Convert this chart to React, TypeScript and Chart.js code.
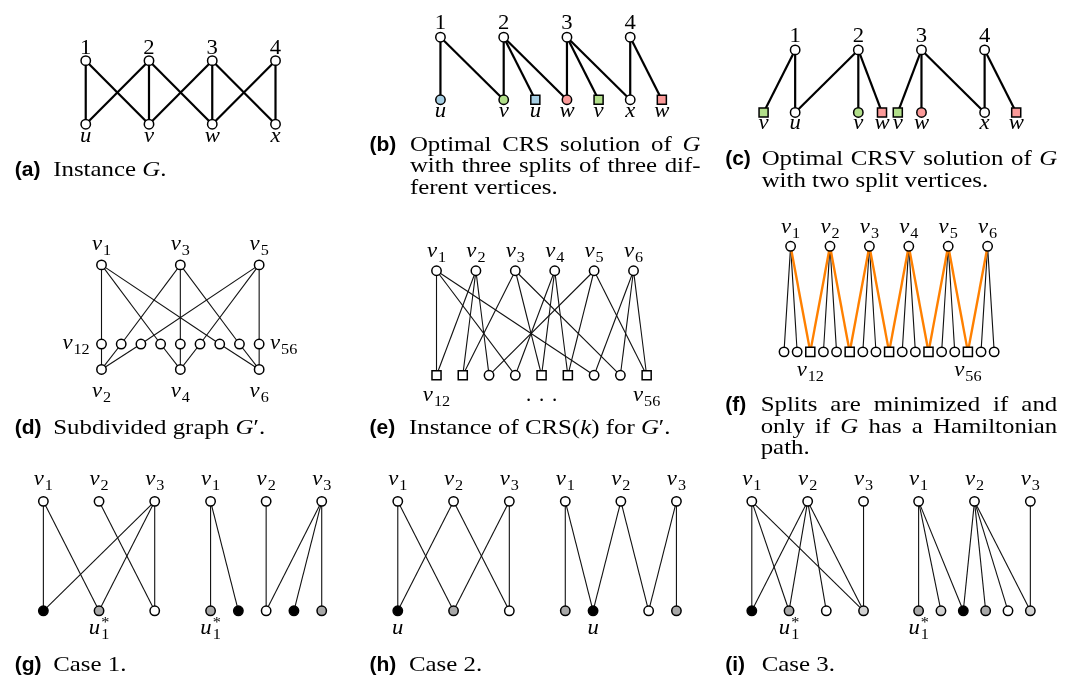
import React, { useEffect, useRef } from "react";
import { Chart, registerables } from "chart.js";

Chart.register(...registerables);

type Edge = [number, number];

// ================= DATA =================
// (a) Instance G
const aTopLabels = ["1", "2", "3", "4"];
const aTopCols = [0, 1, 2, 3];
const aBotLabels = ["u", "v", "w", "x"];
const aBotCols = [0, 1, 2, 3];
const aBotKinds = ["w", "w", "w", "w"];
const aEdges: Edge[] = [[0, 0], [0, 1], [1, 0], [1, 1], [1, 2], [2, 1], [2, 2], [2, 3], [3, 2], [3, 3]];

// (b) Optimal CRS solution
const bTopLabels = ["1", "2", "3", "4"];
const bTopCols = [0, 1, 2, 3];
const bBotLabels = ["u", "v", "u", "w", "v", "x", "w"];
const bBotCols = [0, 1, 1.5, 2, 2.5, 3, 3.5];
const bBotKinds = ["B", "G", "Bs", "R", "Gs", "w", "Rs"];
const bEdges: Edge[] = [[0, 0], [0, 1], [1, 1], [1, 2], [1, 3], [2, 3], [2, 4], [2, 5], [3, 5], [3, 6]];

// (c) Optimal CRSV solution
const cTopLabels = ["1", "2", "3", "4"];
const cTopCols = [0, 1, 2, 3];
const cBotLabels = ["v", "u", "v", "w", "v", "w", "x", "w"];
const cBotCols = [-0.5, 0, 1, 1.375, 1.625, 2, 3, 3.5];
const cBotKinds = ["Gs", "w", "G", "Rs", "Gs", "R", "w", "Rs"];
const cEdges: Edge[] = [[0, 0], [0, 1], [1, 1], [1, 2], [1, 3], [2, 4], [2, 5], [2, 6], [3, 6], [3, 7]];

// (d) Subdivided graph G'
const dTopLabels = ["v_1", "v_3", "v_5"];
const dTopCols = [0, 4, 8];
const dMidCols = [0, 1, 2, 3, 4, 5, 6, 7, 8];
const dSideLabels = ["v_12", "v_56"];
const dBotLabels = ["v_2", "v_4", "v_6"];
const dBotCols = [0, 4, 8];
const dTopMidEdges: Edge[] = [[0, 0], [0, 3], [0, 6], [1, 1], [1, 4], [1, 7], [2, 2], [2, 5], [2, 8]];
const dMidBotEdges: Edge[] = [[0, 0], [1, 0], [2, 0], [3, 1], [4, 1], [5, 1], [6, 2], [7, 2], [8, 2]];

// (e) Instance of CRS(k) for G'
const eTopLabels = ["v_1", "v_2", "v_3", "v_4", "v_5", "v_6"];
const eTopCols = [0, 3, 6, 9, 12, 15];
const eBotCols = [0, 2, 4, 6, 8, 10, 12, 14, 16];
const eBotKinds = ["ws", "ws", "w", "w", "ws", "ws", "w", "w", "ws"];
const eBotLabels = ["v_12", "", "", "", "...", "", "", "", "v_56"];
const eEdges: Edge[] = [
  [0, 0], [0, 3], [0, 6], [1, 0], [1, 1], [1, 2], [2, 1], [2, 4], [2, 7],
  [3, 3], [3, 4], [3, 5], [4, 2], [4, 5], [4, 8], [5, 6], [5, 7], [5, 8],
];

// (f) Splits minimized iff Hamiltonian path
const fTopLabels = ["v_1", "v_2", "v_3", "v_4", "v_5", "v_6"];
const fTopCols = [0.5, 3.5, 6.5, 9.5, 12.5, 15.5];
const fBotCols = [0, 1, 2, 3, 4, 5, 6, 7, 8, 9, 10, 11, 12, 13, 14, 15, 16];
const fBotKinds = ["w", "w", "ws", "w", "w", "ws", "w", "w", "ws", "w", "w", "ws", "w", "w", "ws", "w", "w"];
const fBotLabels = ["", "", "v_12", "", "", "", "", "", "", "", "", "", "", "", "v_56", "", ""];
const fEdges: Edge[] = [[0, 0], [0, 1], [1, 3], [1, 4], [2, 6], [2, 7], [3, 9], [3, 10], [4, 12], [4, 13], [5, 15], [5, 16]];
const fPathEdges: Edge[] = [[0, 2], [1, 2], [1, 5], [2, 5], [2, 8], [3, 8], [3, 11], [4, 11], [4, 14], [5, 14]];

// (g)(h)(i) cases
const caseTopLabels = ["v_1", "v_2", "v_3"];
const g1TopCols = [0, 2, 4];
const g1BotCols = [0, 2, 4];
const g1BotKinds = ["b", "g", "w"];
const g1BotLabels = ["", "u_1^*", ""];
const g1Edges: Edge[] = [[0, 0], [0, 1], [1, 2], [2, 0], [2, 1], [2, 2]];
const g2TopCols = [0, 2, 4];
const g2BotCols = [0, 1, 2, 3, 4];
const g2BotKinds = ["g", "b", "w", "b", "g"];
const g2BotLabels = ["u_1^*", "", "", "", ""];
const g2Edges: Edge[] = [[0, 0], [0, 1], [1, 2], [2, 2], [2, 3], [2, 4]];

const h1TopCols = [0, 2, 4];
const h1BotCols = [0, 2, 4];
const h1BotKinds = ["b", "g", "w"];
const h1BotLabels = ["u", "", ""];
const h1Edges: Edge[] = [[0, 0], [0, 1], [1, 0], [1, 2], [2, 1], [2, 2]];
const h2TopCols = [0, 2, 4];
const h2BotCols = [0, 1, 3, 4];
const h2BotKinds = ["g", "b", "w", "g"];
const h2BotLabels = ["", "u", "", ""];
const h2Edges: Edge[] = [[0, 0], [0, 1], [1, 1], [1, 2], [2, 2], [2, 3]];

const i1TopCols = [0, 3, 6];
const i1BotCols = [0, 2, 4, 6];
const i1BotKinds = ["b", "g", "w", "l"];
const i1BotLabels = ["", "u_1^*", "", ""];
const i1Edges: Edge[] = [[0, 0], [0, 1], [0, 3], [1, 0], [1, 1], [1, 2], [1, 3], [2, 3]];
const i2TopCols = [0, 5, 10];
const i2BotCols = [0, 2, 4, 6, 8, 10];
const i2BotKinds = ["g", "l", "b", "g", "w", "l"];
const i2BotLabels = ["u_1^*", "", "", "", "", ""];
const i2Edges: Edge[] = [[0, 0], [0, 1], [0, 2], [1, 2], [1, 3], [1, 4], [1, 5], [2, 5]];

// Captions
const capA = ["Instance $G$."];
const capB = ["Optimal CRS solution of $G$", "with three splits of three dif-", "ferent vertices."];
const capC = ["Optimal CRSV solution of $G$", "with two split vertices."];
const capD = ["Subdivided graph $G$′."];
const capE = ["Instance of CRS($k$) for $G$′."];
const capF = ["Splits are minimized if and", "only if $G$ has a Hamiltonian", "path."];
const capG = ["Case 1."];
const capH = ["Case 2."];
const capI = ["Case 3."];

// ================= LAYOUT / STYLE =================
const W = 1075;
const H = 691;
type Layout = { x0: number; unit: number; yTop: number; yBot: number; topLab: number; botLab: number };
const row3 = { yTop: 505, yBot: 617, topLab: 488, botLab: 641 };
const LAYOUT: Record<string, Layout> = {
  a: { x0: 79, unit: 64.2, yTop: 54, yBot: 119, topLab: 47, botLab: 137 },
  b: { x0: 439, unit: 64.2, yTop: 30, yBot: 94, topLab: 22, botLab: 112 },
  c: { x0: 799, unit: 64.1, yTop: 43, yBot: 107, topLab: 35, botLab: 124 },
  d: { x0: 95, unit: 20, yTop: 263, yBot: 370, topLab: 248, botLab: 398 },
  e: { x0: 435, unit: 13.33, yTop: 269, yBot: 376, topLab: 255, botLab: 402 },
  f: { x0: 787.7, unit: 13.33, yTop: 244, yBot: 352, topLab: 230, botLab: 377 },
  g1: { x0: 36, unit: 28.25, ...row3 },
  g2: { x0: 205.7, unit: 28.2, ...row3 },
  h1: { x0: 395.7, unit: 28.3, ...row3 },
  h2: { x0: 565.7, unit: 28.2, ...row3 },
  i1: { x0: 755, unit: 18.9, ...row3 },
  i2: { x0: 924.3, unit: 11.34, ...row3 },
};
const D_MID_Y = 344;
const D_SIDE_BASE = 349;

type CapLayout = { tag: string; lines: string[]; tagX: number; textX: number; base: number[]; right: number; justify: boolean[] };
const CAPTIONS: CapLayout[] = [
  { tag: "a", lines: capA, tagX: 7, textX: 46, base: [172], right: 0, justify: [false] },
  { tag: "b", lines: capB, tagX: 367, textX: 408, base: [146, 168, 190], right: 703, justify: [true, true, false] },
  { tag: "c", lines: capC, tagX: 728, textX: 765, base: [161, 183], right: 1065, justify: [true, false] },
  { tag: "d", lines: capD, tagX: 7, textX: 46, base: [436], right: 0, justify: [false] },
  { tag: "e", lines: capE, tagX: 367, textX: 407, base: [436], right: 0, justify: [false] },
  { tag: "f", lines: capF, tagX: 728, textX: 764, base: [413, 435, 457], right: 1065, justify: [true, true, false] },
  { tag: "g", lines: capG, tagX: 7, textX: 46, base: [679], right: 0, justify: [false] },
  { tag: "h", lines: capH, tagX: 367, textX: 407, base: [679], right: 0, justify: [false] },
  { tag: "i", lines: capI, tagX: 728, textX: 765, base: [679], right: 0, justify: [false] },
];

const SERIF = "'Liberation Serif','Times New Roman',serif";
const SANS = "'Liberation Sans',Arial,sans-serif";
const CAP_SIZE = 22;
const CAP_SX = 1.13;
const TAG_SIZE = 21;
const LAB_SIZE = 21;
const LAB_SX = 1.08;
const SUB_SIZE = 15;
const CIRCLE_R = 4.7;
const RECT_R = 6.4;
const NODE_BORDER = 1.5;

const KIND_STYLE: Record<string, { shape: "circle" | "rect"; fill: string }> = {
  w: { shape: "circle", fill: "#ffffff" },
  b: { shape: "circle", fill: "#000000" },
  g: { shape: "circle", fill: "#a8a8a8" },
  l: { shape: "circle", fill: "#d2d2d2" },
  B: { shape: "circle", fill: "#a6cee3" },
  G: { shape: "circle", fill: "#b2df8a" },
  R: { shape: "circle", fill: "#fb9a99" },
  ws: { shape: "rect", fill: "#ffffff" },
  Bs: { shape: "rect", fill: "#a6cee3" },
  Gs: { shape: "rect", fill: "#b2df8a" },
  Rs: { shape: "rect", fill: "#fb9a99" },
};
const EDGE_STYLE: Record<string, { color: string; width: number; order: number }> = {
  thick: { color: "#000000", width: 2.2, order: 2 },
  thin: { color: "#111111", width: 1.1, order: 2 },
  path: { color: "#ff8000", width: 2.4, order: 1 },
};

// ================= SCENE =================
type Pt = { x: number; y: number };
type Label = { text: string; x: number; y: number; align: "center" | "left" | "right" };
type Scene = { edges: { a: Pt; b: Pt; style: string }[]; nodes: Record<string, Pt[]>; labels: Label[] };

function buildScene(): Scene {
  const s: Scene = { edges: [], nodes: {}, labels: [] };
  const addNode = (kind: string, p: Pt) => {
    (s.nodes[kind] = s.nodes[kind] || []).push(p);
  };
  const colX = (L: Layout, c: number) => L.x0 + L.unit * c;
  const graph = (
    L: Layout, topLabels: string[], topCols: number[], botLabels: string[], botCols: number[],
    botKinds: string[], edgeSets: [Edge[], string][]
  ) => {
    const tp = topCols.map((c) => ({ x: colX(L, c), y: L.yTop }));
    const bp = botCols.map((c) => ({ x: colX(L, c), y: L.yBot }));
    for (const [es, style] of edgeSets) es.forEach(([t, b]) => s.edges.push({ a: tp[t], b: bp[b], style }));
    tp.forEach((p) => addNode("w", p));
    bp.forEach((p, i) => addNode(botKinds[i], p));
    topLabels.forEach((t, i) => { if (t) s.labels.push({ text: t, x: tp[i].x, y: L.topLab, align: "center" }); });
    botLabels.forEach((t, i) => { if (t) s.labels.push({ text: t, x: bp[i].x, y: L.botLab, align: "center" }); });
  };
  graph(LAYOUT.a, aTopLabels, aTopCols, aBotLabels, aBotCols, aBotKinds, [[aEdges, "thick"]]);
  graph(LAYOUT.b, bTopLabels, bTopCols, bBotLabels, bBotCols, bBotKinds, [[bEdges, "thick"]]);
  graph(LAYOUT.c, cTopLabels, cTopCols, cBotLabels, cBotCols, cBotKinds, [[cEdges, "thick"]]);

  // (d) three layers
  {
    const L = LAYOUT.d;
    const tp = dTopCols.map((c) => ({ x: colX(L, c), y: L.yTop }));
    const mp = dMidCols.map((c) => ({ x: colX(L, c), y: D_MID_Y }));
    const bp = dBotCols.map((c) => ({ x: colX(L, c), y: L.yBot }));
    dTopMidEdges.forEach(([t, m]) => s.edges.push({ a: tp[t], b: mp[m], style: "thin" }));
    dMidBotEdges.forEach(([m, b]) => s.edges.push({ a: mp[m], b: bp[b], style: "thin" }));
    [...tp, ...mp, ...bp].forEach((p) => addNode("w", p));
    dTopLabels.forEach((t, i) => s.labels.push({ text: t, x: tp[i].x, y: L.topLab, align: "center" }));
    dBotLabels.forEach((t, i) => s.labels.push({ text: t, x: bp[i].x, y: L.botLab, align: "center" }));
    s.labels.push({ text: dSideLabels[0], x: mp[0].x - 12, y: D_SIDE_BASE, align: "right" });
    s.labels.push({ text: dSideLabels[1], x: mp[mp.length - 1].x + 11, y: D_SIDE_BASE, align: "left" });
  }

  graph(LAYOUT.e, eTopLabels, eTopCols, eBotLabels, eBotCols, eBotKinds, [[eEdges, "thin"]]);
  graph(LAYOUT.f, fTopLabels, fTopCols, fBotLabels, fBotCols, fBotKinds, [[fEdges, "thin"], [fPathEdges, "path"]]);
  graph(LAYOUT.g1, caseTopLabels, g1TopCols, g1BotLabels, g1BotCols, g1BotKinds, [[g1Edges, "thin"]]);
  graph(LAYOUT.g2, caseTopLabels, g2TopCols, g2BotLabels, g2BotCols, g2BotKinds, [[g2Edges, "thin"]]);
  graph(LAYOUT.h1, caseTopLabels, h1TopCols, h1BotLabels, h1BotCols, h1BotKinds, [[h1Edges, "thin"]]);
  graph(LAYOUT.h2, caseTopLabels, h2TopCols, h2BotLabels, h2BotCols, h2BotKinds, [[h2Edges, "thin"]]);
  graph(LAYOUT.i1, caseTopLabels, i1TopCols, i1BotLabels, i1BotCols, i1BotKinds, [[i1Edges, "thin"]]);
  graph(LAYOUT.i2, caseTopLabels, i2TopCols, i2BotLabels, i2BotCols, i2BotKinds, [[i2Edges, "thin"]]);
  return s;
}

// ================= TEXT DRAWING =================
function drawStretched(ctx: CanvasRenderingContext2D, text: string, x: number, y: number, sx: number) {
  ctx.save();
  ctx.translate(x, y);
  ctx.scale(sx, 1);
  ctx.fillText(text, 0, 0);
  ctx.restore();
}

function drawMath(ctx: CanvasRenderingContext2D, label: string, x: number, y: number, align: string) {
  if (label === "...") {
    ctx.font = `${LAB_SIZE}px ${SERIF}`;
    [-13, 0, 13].forEach((dx) => drawStretched(ctx, ".", x + dx - 2.5, y, 1));
    return;
  }
  const [main, sup] = label.split("^");
  const [base, sub] = main.split("_");
  const italic = /[a-z]/i.test(base);
  const fb = `${italic ? "italic " : ""}${LAB_SIZE}px ${SERIF}`;
  const fs = `${SUB_SIZE}px ${SERIF}`;
  ctx.font = fb;
  const wb = ctx.measureText(base).width * LAB_SX;
  ctx.font = fs;
  const ws = Math.max(sub ? ctx.measureText(sub).width : 0, sup ? ctx.measureText(sup).width : 0) * LAB_SX;
  const total = wb + (ws ? ws + 1 : 0);
  const x0 = align === "center" ? x - total / 2 : align === "right" ? x - total : x;
  ctx.font = fb;
  drawStretched(ctx, base, x0, y, LAB_SX);
  ctx.font = fs;
  if (sub) drawStretched(ctx, sub, x0 + wb + 1, y + 5, LAB_SX);
  if (sup) drawStretched(ctx, sup, x0 + wb + 1, y - 7, LAB_SX);
}

const capFont = (it: boolean) => `${it ? "italic " : ""}${CAP_SIZE}px ${SERIF}`;

function drawCaption(ctx: CanvasRenderingContext2D, c: CapLayout, px: (v: number) => number, py: (v: number) => number) {
  ctx.font = `bold ${TAG_SIZE}px ${SANS}`;
  ctx.fillText(`(${c.tag})`, px(c.tagX), py(c.base[0]));
  c.lines.forEach((line, li) => {
    const toks = line.split(" ").map((tok) =>
      tok.split("$").map((t, i) => ({ t, it: i % 2 === 1 })).filter((r) => r.t.length > 0)
    );
    const widths = toks.map((tok) =>
      tok.reduce((acc, r) => {
        ctx.font = capFont(r.it);
        return acc + ctx.measureText(r.t).width * CAP_SX;
      }, 0)
    );
    ctx.font = capFont(false);
    let gap = ctx.measureText(" ").width * CAP_SX;
    if (c.justify[li] && toks.length > 1) {
      const sum = widths.reduce((a, b) => a + b, 0);
      gap = (px(c.right) - px(c.textX) - sum) / (toks.length - 1);
    }
    let x = px(c.textX);
    toks.forEach((tok) => {
      tok.forEach((r) => {
        ctx.font = capFont(r.it);
        drawStretched(ctx, r.t, x, py(c.base[li]), CAP_SX);
        x += ctx.measureText(r.t).width * CAP_SX;
      });
      x += gap;
    });
  });
}

// ================= COMPONENT =================
export default function App() {
  const ref = useRef<HTMLCanvasElement>(null);
  useEffect(() => {
    if (!ref.current) return;
    const scene = buildScene();
    const datasets: any[] = [];
    Object.keys(scene.nodes).forEach((kind) => {
      const st = KIND_STYLE[kind];
      const r = st.shape === "rect" ? RECT_R : CIRCLE_R;
      datasets.push({
        data: scene.nodes[kind],
        showLine: false,
        pointStyle: st.shape,
        pointRadius: r,
        pointHoverRadius: r,
        pointBackgroundColor: st.fill,
        pointBorderColor: "#000000",
        pointBorderWidth: NODE_BORDER,
        order: 0,
        clip: false,
      });
    });
    scene.edges.forEach((e) => {
      const st = EDGE_STYLE[e.style];
      datasets.push({
        data: [e.a, e.b],
        showLine: true,
        borderColor: st.color,
        borderWidth: st.width,
        pointRadius: 0,
        pointHoverRadius: 0,
        fill: false,
        tension: 0,
        order: st.order,
        clip: false,
      });
    });

    const textPlugin = {
      id: "figureText",
      afterDraw(chart: any) {
        const ctx: CanvasRenderingContext2D = chart.ctx;
        const px = (v: number) => chart.scales.x.getPixelForValue(v);
        const py = (v: number) => chart.scales.y.getPixelForValue(v);
        ctx.save();
        ctx.fillStyle = "#000000";
        ctx.textAlign = "left";
        ctx.textBaseline = "alphabetic";
        scene.labels.forEach((l) => drawMath(ctx, l.text, px(l.x), py(l.y), l.align));
        CAPTIONS.forEach((c) => drawCaption(ctx, c, px, py));
        ctx.restore();
      },
    };

    const chart = new Chart(ref.current, {
      type: "scatter",
      data: { datasets },
      options: {
        animation: false,
        responsive: false,
        events: [],
        layout: { padding: 0 },
        scales: {
          x: { type: "linear", min: 0, max: W, display: false },
          y: { type: "linear", min: 0, max: H, reverse: true, display: false },
        },
        plugins: { legend: { display: false }, tooltip: { enabled: false } },
      },
      plugins: [textPlugin],
    } as any);
    return () => chart.destroy();
  }, []);

  return (
    <div style={{ position: "absolute", left: 0, top: 0, width: W, height: H, background: "#ffffff" }}>
      <canvas ref={ref} width={W} height={H} style={{ display: "block", width: W, height: H }} />
    </div>
  );
}
